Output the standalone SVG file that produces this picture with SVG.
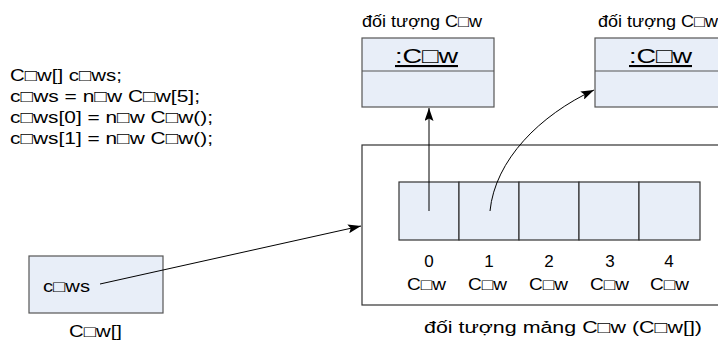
<svg xmlns="http://www.w3.org/2000/svg" width="718" height="347" viewBox="0 0 718 347">
<style>
text{font-family:"Liberation Sans",Arial,"DejaVu Sans",sans-serif;fill:#000}
.code{font-size:17px}
.lbl{font-size:16px}
.idx{font-size:17px}
.obj{fill:#e8eef8;stroke:#555;stroke-width:1.2}
.cell{fill:#e8eef8;stroke:#333;stroke-width:1.2}
.cont{fill:#fff;stroke:#333;stroke-width:1.2}
.conn{fill:none;stroke:#000;stroke-width:1}
</style>
<defs>
<marker id="ah" viewBox="0 0 13 9" refX="13" refY="4.5" markerWidth="13" markerHeight="9" markerUnits="userSpaceOnUse" orient="auto">
<path d="M0,0 L13,4.5 L0,9 L2.5,4.5 z" fill="#000"/>
</marker>
</defs>
<g id="code">
<text class="code" x="10" y="81" textLength="112" lengthAdjust="spacingAndGlyphs">C□w[] c□ws;</text>
<text class="code" x="10" y="102" textLength="190" lengthAdjust="spacingAndGlyphs">c□ws = n□w C□w[5];</text>
<text class="code" x="10" y="123" textLength="203" lengthAdjust="spacingAndGlyphs">c□ws[0] = n□w C□w();</text>
<text class="code" x="10" y="144" textLength="203" lengthAdjust="spacingAndGlyphs">c□ws[1] = n□w C□w();</text>
</g>
<g id="array-object">
<rect class="cont" x="362" y="145" width="400" height="160"/>
<rect class="cell" x="399" y="182" width="60" height="58"/>
<rect class="cell" x="459" y="182" width="60" height="58"/>
<rect class="cell" x="519" y="182" width="60" height="58"/>
<rect class="cell" x="579" y="182" width="60" height="58"/>
<rect class="cell" x="639" y="182" width="61" height="58"/>
<g class="idx" text-anchor="middle">
<text x="429" y="267">0</text>
<text x="489" y="267">1</text>
<text x="549" y="267">2</text>
<text x="610" y="267">3</text>
<text x="669" y="267">4</text>
</g>
<g class="lbl">
<text x="407" y="290" textLength="39" lengthAdjust="spacingAndGlyphs">C□w</text>
<text x="468" y="290" textLength="39" lengthAdjust="spacingAndGlyphs">C□w</text>
<text x="529" y="290" textLength="39" lengthAdjust="spacingAndGlyphs">C□w</text>
<text x="590" y="290" textLength="39" lengthAdjust="spacingAndGlyphs">C□w</text>
<text x="650" y="290" textLength="39" lengthAdjust="spacingAndGlyphs">C□w</text>
</g>
<text class="idx" x="424" y="333" textLength="278" lengthAdjust="spacingAndGlyphs">đối tượng mảng C□w (C□w[])</text>
</g>
<g id="cow-object-0">
<text class="lbl" x="362" y="27" textLength="120" lengthAdjust="spacingAndGlyphs">đối tượng C□w</text>
<rect class="obj" x="362" y="38" width="132" height="69"/>
<line x1="362" y1="71" x2="494" y2="71" stroke="#555" stroke-width="1.2"/>
<text x="395" y="63" font-size="21" textLength="63" lengthAdjust="spacingAndGlyphs" text-decoration="underline">:C□w</text>
</g>
<g id="cow-object-1">
<text class="lbl" x="598" y="27" textLength="120" lengthAdjust="spacingAndGlyphs">đối tượng C□w</text>
<rect class="obj" x="595" y="38" width="132" height="69"/>
<line x1="595" y1="71" x2="727" y2="71" stroke="#555" stroke-width="1.2"/>
<text x="629" y="63" font-size="21" textLength="63" lengthAdjust="spacingAndGlyphs" text-decoration="underline">:C□w</text>
</g>
<g id="cows-var">
<rect class="obj" x="29" y="256" width="134" height="57"/>
<text class="lbl" x="43" y="292" textLength="47" lengthAdjust="spacingAndGlyphs">c□ws</text>
<text class="lbl" x="69" y="337" textLength="53" lengthAdjust="spacingAndGlyphs">C□w[]</text>
</g>
<g id="connectors">
<line class="conn" x1="100" y1="284" x2="361" y2="226" marker-end="url(#ah)"/>
<line class="conn" x1="429" y1="211" x2="429" y2="108" marker-end="url(#ah)"/>
<path class="conn" d="M490,211 C495,160 540,115 594,90" marker-end="url(#ah)"/>
</g>
</svg>
